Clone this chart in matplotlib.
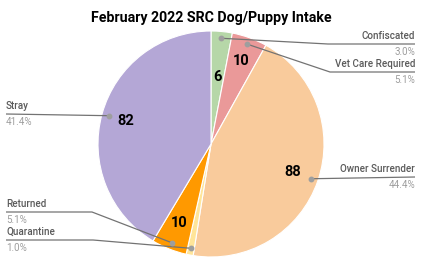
import matplotlib.pyplot as plt
import numpy as np

plt.rcParams["font.family"] = ["Roboto", "DejaVu Sans"]

categories = ["Confiscated", "Vet Care Required", "Owner Surrender", "Quarantine", "Returned", "Stray"]
counts = [6, 10, 88, 2, 10, 82]
colors = ["#b6d7a8", "#ea9999", "#f9cb9c", "#ffe599", "#ff9900", "#b4a7d6"]
show_value = [True, True, True, False, True, True]
value_dist = [0.6, 0.78, 0.77, 0.77, 0.75, 0.78]

W, H = 423, 261
fig = plt.figure(figsize=(W / 100, H / 100), dpi=100)
ax = fig.add_axes([0, 0, 1, 1])

cx, cy, r = 211, H - 144, 113
wedges, _ = ax.pie(
    counts, colors=colors, startangle=90, counterclock=False,
    center=(cx, cy), radius=r, frame=True,
    wedgeprops=dict(edgecolor="white", linewidth=0.8),
)
ax.set_xlim(0, W)
ax.set_ylim(0, H)
ax.set_aspect("equal")
ax.axis("off")

total = sum(counts)
# leader layout: side, y of label line (pixels from top), elbow x
leaders = {
    "Confiscated": ("right", 44, 328),
    "Vet Care Required": ("right", 72, 330),
    "Owner Surrender": ("right", 177, None),
    "Quarantine": ("left", 240, 93),
    "Returned": ("left", 212, 92),
    "Stray": ("left", 114, None),
}

for w, cat, n, show, d in zip(wedges, categories, counts, show_value, value_dist):
    mid = np.deg2rad((w.theta1 + w.theta2) / 2)
    if show:
        ax.text(cx + d * r * np.cos(mid), cy + d * r * np.sin(mid), str(n),
                ha="center", va="center", fontsize=10.5, fontweight="bold", color="#000000")
    dx, dy = cx + 0.94 * r * np.cos(mid), cy + 0.94 * r * np.sin(mid)
    side, ly, ex = leaders[cat]
    ly = H - ly
    end_x = 415 if side == "right" else 6
    if ex is None:
        xs, ys = [dx, end_x], [dy, ly]
    else:
        xs, ys = [dx, ex, end_x], [dy, ly, ly]
    ax.plot(xs, ys, color="#737373", lw=0.9, solid_capstyle="butt", zorder=3)
    ax.plot(dx, dy, "o", ms=3.2, color="#9e9e9e", zorder=4)
    ha = "right" if side == "right" else "left"
    ax.text(end_x, ly + 3, cat, ha=ha, va="bottom", fontsize=7.1, color="#5a5a5a", fontweight="medium")
    ax.text(end_x, ly - 3, f"{100 * n / total:.1f}%", ha=ha, va="top", fontsize=7.1, color="#9e9e9e")

ax.text(211, H - 18, "February 2022 SRC Dog/Puppy Intake", ha="center", va="center",
        fontsize=10.2, fontweight="bold", color="#000000")

fig.savefig("out.png", dpi=100)
